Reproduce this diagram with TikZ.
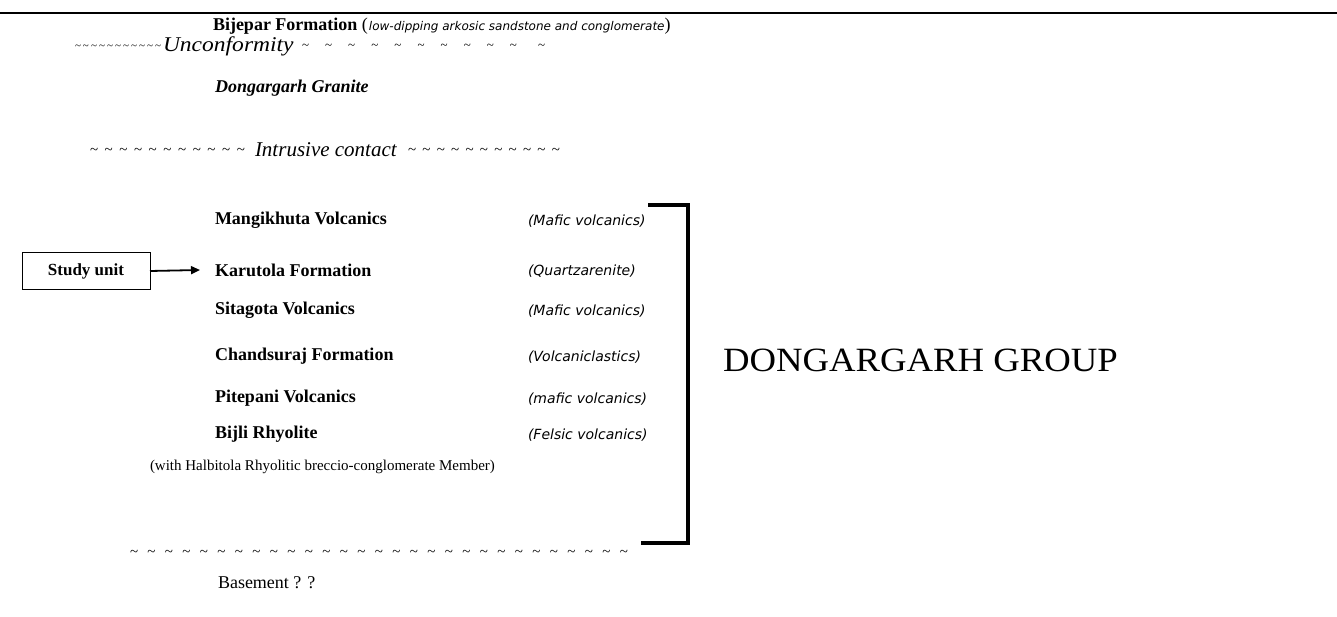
\documentclass[tikz,border=0pt]{standalone}
\usepackage{fontspec}
\setmainfont{Liberation Serif}
\newfontfamily\vfont{DejaVu Sans}
\usetikzlibrary{arrows.meta}
\newcommand\tildes[2]{\hbox to #2{\foreach \i in {2,...,#1}{\textasciitilde\hfill}\textasciitilde}}
\begin{document}
\begin{tikzpicture}[x=1pt,y=-1pt,
  every node/.style={inner sep=0pt,outer sep=0pt,anchor=west},
  unit/.style={font=\fontsize{18}{20}\selectfont\bfseries},
  lith/.style={font=\fontsize{14}{16}\vfont\itshape},
  tl/.style={font=\fontsize{15}{17}\selectfont},
  contact/.style={font=\fontsize{21}{23}\selectfont\itshape},
  bracket/.style={line width=4pt,line join=miter},
  studybox/.style={draw,line width=0.8pt,minimum width=128pt,minimum height=37pt,anchor=center,font=\fontsize{17}{19}\selectfont\bfseries}]
\useasboundingbox (0,0) rectangle (1337,617);
\draw[line width=1.4pt] (0,13) coordinate (tl0) -- (1337,13) coordinate (tl1);
% top
\node[unit] (bij) at (213,26) {Bijepar Formation};
\node[font=\fontsize{18}{20}\selectfont,anchor=west] (bijp) at (bij.east) {\ (\kern1pt{\fontsize{12}{14}\vfont\itshape low-dipping arkosic sandstone and conglomerate})};
% unconformity
\node[tl,font=\fontsize{11}{13}\selectfont] (u1) at (75,47) {\tildes{11}{86pt}};
\node[contact] (unc) at (163,46) {\scalebox{1.12}[1]{Unconformity}};
\node[tl,font=\fontsize{13}{15}\selectfont] (u2) at (302,47) {\tildes{10}{215pt}};
\node[tl,font=\fontsize{13}{15}\selectfont] (u3) at (538,47) {\textasciitilde};
% granite
\node[unit,font=\fontsize{18}{20}\selectfont\bfseries\itshape] (gra) at (215,88) {Dongargarh Granite};
% intrusive
\node[tl] (i1) at (90,151) {\tildes{11}{155pt}};
\node[contact] (int) at (255,150) {Intrusive contact};
\node[tl] (i2) at (408,151) {\tildes{11}{152pt}};
% units
\node[unit] (m) at (215,220) {Mangikhuta Volcanics};
\node[lith] (ml) at (528,221) {(Mafic volcanics)};
\node[unit] (k) at (215,270) {Karutola Formation};
\node[lith] (kl) at (528,271) {(Quartzarenite)};
\node[unit] (s) at (215,310) {Sitagota Volcanics};
\node[lith] (sl) at (528,311) {(Mafic volcanics)};
\node[unit] (c) at (215,356) {Chandsuraj Formation};
\node[lith] (cl) at (528,357) {(Volcaniclastics)};
\node[unit] (p) at (215,398) {Pitepani Volcanics};
\node[lith] (pl) at (528,399) {(mafic volcanics)};
\node[unit] (b) at (215,434) {Bijli Rhyolite};
\node[lith] (bl) at (528,435) {(Felsic volcanics)};
\node[font=\fontsize{15}{17}\selectfont] (h) at (150,467) {(with Halbitola Rhyolitic breccio-conglomerate Member)};
% bracket
\coordinate (br0) at (648,205);
\coordinate (br1) at (688,205);
\coordinate (br2) at (688,543);
\coordinate (br3) at (641,543);
\draw[bracket] (br0) -- (br1) -- (br2) -- (br3);
\node[font=\fontsize{34}{36}\selectfont] (grp) at (723,360) {\scalebox{1.08}[1]{DONGARGARH GROUP}};
% bottom
\node[tl] (bt) at (130,553) {\tildes{29}{498pt}};
\node[font=\fontsize{18}{20}\selectfont] (bas) at (218,583) {Basement ? ?};
% study unit
\node[studybox] (su) at (86,271) {Study unit};
\draw[line width=1.8pt,-{Triangle[length=9pt,width=8pt]}] (su.east) -- ([xshift=-15pt]k.west);
\end{tikzpicture}
\end{document}
